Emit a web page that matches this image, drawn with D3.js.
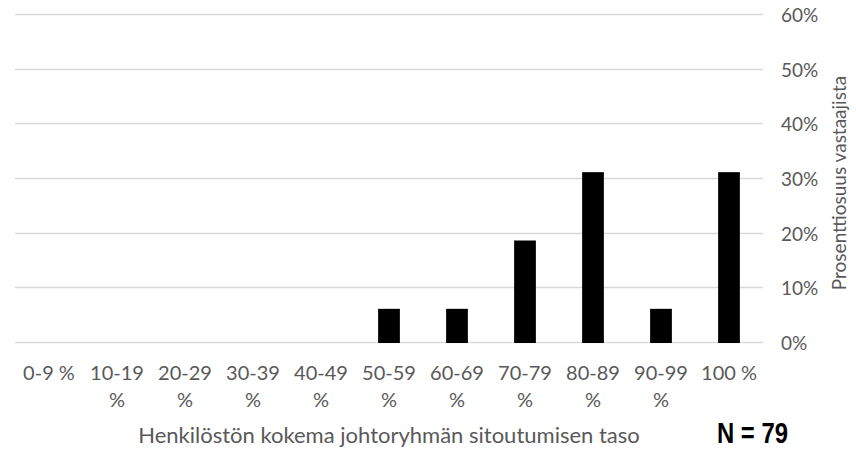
<!DOCTYPE html>
<html>
<head>
<meta charset="utf-8">
<script src="https://cdn.jsdelivr.net/npm/d3@7"></script>
<style>
  html, body { margin: 0; padding: 0; background: #fff; }
  svg text { font-family: Lato, "Open Sans", sans-serif; }
</style>
</head>
<body>
<svg id="chart" width="856" height="450"></svg>
<script>
// Share of respondents by perceived commitment level of the management group
const categories = ["0-9 %", "10-19 %", "20-29 %", "30-39 %", "40-49 %", "50-59 %", "60-69 %", "70-79 %", "80-89 %", "90-99 %", "100 %"];
const shares = [0, 0, 0, 0, 0, 6.25, 6.25, 18.75, 31.25, 6.25, 31.25];
const yTicks = [0, 10, 20, 30, 40, 50, 60];

const svg = d3.select("#chart");
const W = 856, H = 450;
const plot = { left: 15, right: 763, top: 15, bottom: 343 };

const x = d3.scaleBand()
  .domain(categories)
  .range([plot.left, plot.right])
  .paddingInner(0.68)
  .paddingOuter(0.34);

const y = d3.scaleLinear()
  .domain([0, 60])
  .range([plot.bottom, plot.top]);

// Horizontal gridlines
svg.append("g")
  .selectAll("line")
  .data(yTicks)
  .join("line")
  .attr("x1", plot.left)
  .attr("x2", plot.right)
  .attr("y1", d => Math.round(y(d)) - 0.5)
  .attr("y2", d => Math.round(y(d)) - 0.5)
  .attr("stroke", "#d9d9d9")
  .attr("stroke-width", 1.3);

// Value axis on the right
const yAxis = d3.axisRight(y)
  .tickValues(yTicks)
  .tickFormat(d => d + "%")
  .tickSize(0)
  .tickPadding(0);
const gy = svg.append("g")
  .attr("transform", `translate(781,0)`)
  .call(yAxis);
gy.select(".domain").remove();
gy.selectAll("text")
  .attr("fill", "#595959")
  .attr("font-size", 19)
  .attr("text-anchor", "start")
  .attr("x", 0)
  .attr("dy", "0.35em");

// Bars
svg.append("g")
  .selectAll("rect")
  .data(categories.map((c, i) => ({ c, v: shares[i] })).filter(d => d.v > 0))
  .join("rect")
  .attr("x", d => x(d.c))
  .attr("y", d => y(d.v))
  .attr("width", x.bandwidth())
  .attr("height", d => y(0) - y(d.v))
  .attr("fill", "#000");

// Category axis, labels wrapped onto two lines where needed
const xAxis = d3.axisBottom(x).tickSize(0).tickPadding(0);
const gx = svg.append("g")
  .attr("transform", `translate(0,${y(0)})`)
  .call(xAxis);
gx.select(".domain").remove();
gx.selectAll("text").each(function(d) {
  const t = d3.select(this);
  t.text(null)
    .attr("fill", "#595959")
    .attr("font-size", 20)
    .attr("y", 0)
    .attr("dy", null);
  const parts = d === "0-9 %" || d === "100 %" ? [d] : d.split(" ");
  parts.forEach((p, i) => {
    t.append("tspan")
      .attr("x", 0)
      .attr("y", 37 + i * 27)
      .text(p);
  });
});

// Axis titles
svg.append("text")
  .attr("x", (plot.left + plot.right) / 2)
  .attr("y", 443)
  .attr("text-anchor", "middle")
  .attr("fill", "#595959")
  .attr("font-size", 22)
  .text("Henkilöstön kokema johtoryhmän sitoutumisen taso");

svg.append("text")
  .attr("transform", `translate(846,${(plot.top + plot.bottom) / 2 + 4}) rotate(-90)`)
  .attr("text-anchor", "middle")
  .attr("fill", "#595959")
  .attr("font-size", 19)
  .text("Prosenttiosuus vastaajista");

svg.append("text")
  .attr("x", 717)
  .attr("y", 443)
  .attr("fill", "#000")
  .attr("font-size", 29)
  .attr("font-weight", "bold")
  .attr("textLength", 71)
  .attr("lengthAdjust", "spacingAndGlyphs")
  .style("font-family", "'Liberation Sans Narrow', 'Liberation Sans', Arial, sans-serif")
  .text("N = 79");
</script>
</body>
</html>
